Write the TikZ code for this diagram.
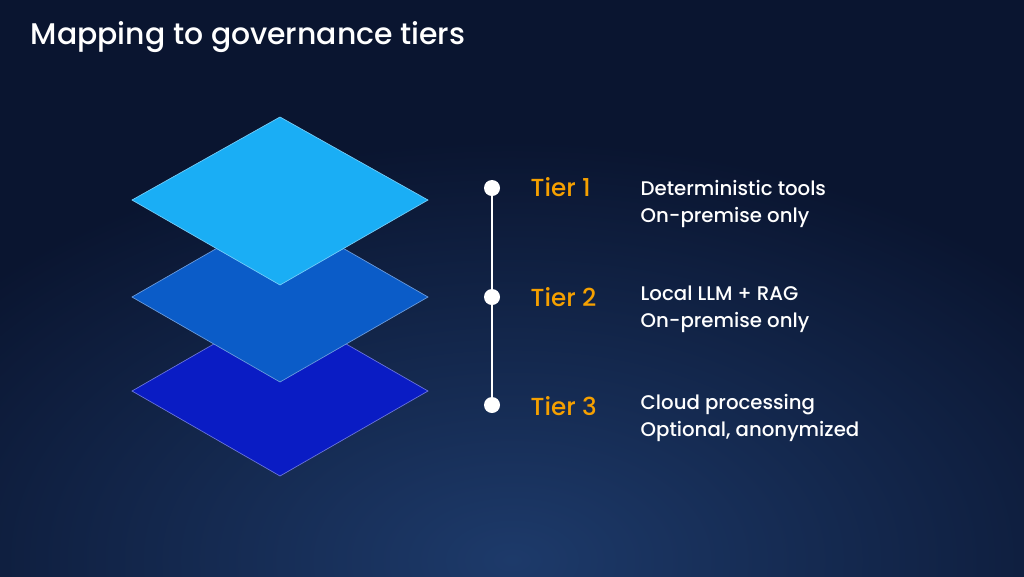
\documentclass[tikz,border=0pt]{standalone}
\usepackage{fontspec}
\setmainfont{Poppins Medium}
\begin{document}
\begin{tikzpicture}[x=0.75pt,y=-0.75pt,
  dia/.style={draw=#1!60!white,line width=0.5pt,fill=#1},
  dot/.style={circle,fill=white,inner sep=0pt,minimum size=12pt},
  tier/.style={anchor=west,text=tierorange,font=\fontsize{18.5}{20}\selectfont},
  desc/.style={anchor=west,text=white,align=left,font=\fontsize{14.8}{20.5}\selectfont}]
\definecolor{bgdark}{HTML}{0A1530}
\definecolor{bglight}{HTML}{1D3A6A}
\definecolor{tierorange}{HTML}{F5A000}
\definecolor{c1}{HTML}{1AAEF5}
\definecolor{c2}{HTML}{0B5CC8}
\definecolor{c3}{HTML}{0A1CC4}
\useasboundingbox (0,0) rectangle (1024,576);
\fill[bgdark] (0,0) rectangle (1024,576);
\shade[inner color=bglight,outer color=bgdark] (512,560) ellipse (700 and 420);
\node[anchor=west,text=white,font=\fontsize{22.4}{24}\selectfont] (title) at (26,37) {Mapping to governance tiers};
\draw[dia=c3] (132,391) -- (280,306) -- (428,391) -- (280,476) -- cycle;
\draw[dia=c2] (132,297) -- (280,212) -- (428,297) -- (280,382) -- cycle;
\draw[dia=c1] (132,200) -- (280,117) -- (428,200) -- (280,285) -- cycle;
\node[dot] (d1) at (492,188) {};
\node[dot] (d2) at (492,297) {};
\node[dot] (d3) at (492,405) {};
\draw[white,line width=1pt] (d1) -- (d2) (d2) -- (d3);
\node[tier] (t1) at (526,187) {Tier 1};
\node[tier] (t2) at (526,297) {Tier 2};
\node[tier] (t3) at (526,406) {Tier 3};
\node[desc] (e1) at (636,204) {Deterministic tools\\On-premise only};
\node[desc] (e2) at (636,309) {Local LLM + RAG\\On-premise only};
\node[desc] (e3) at (636,418) {Cloud processing\\Optional, anonymized};
\end{tikzpicture}
\end{document}
